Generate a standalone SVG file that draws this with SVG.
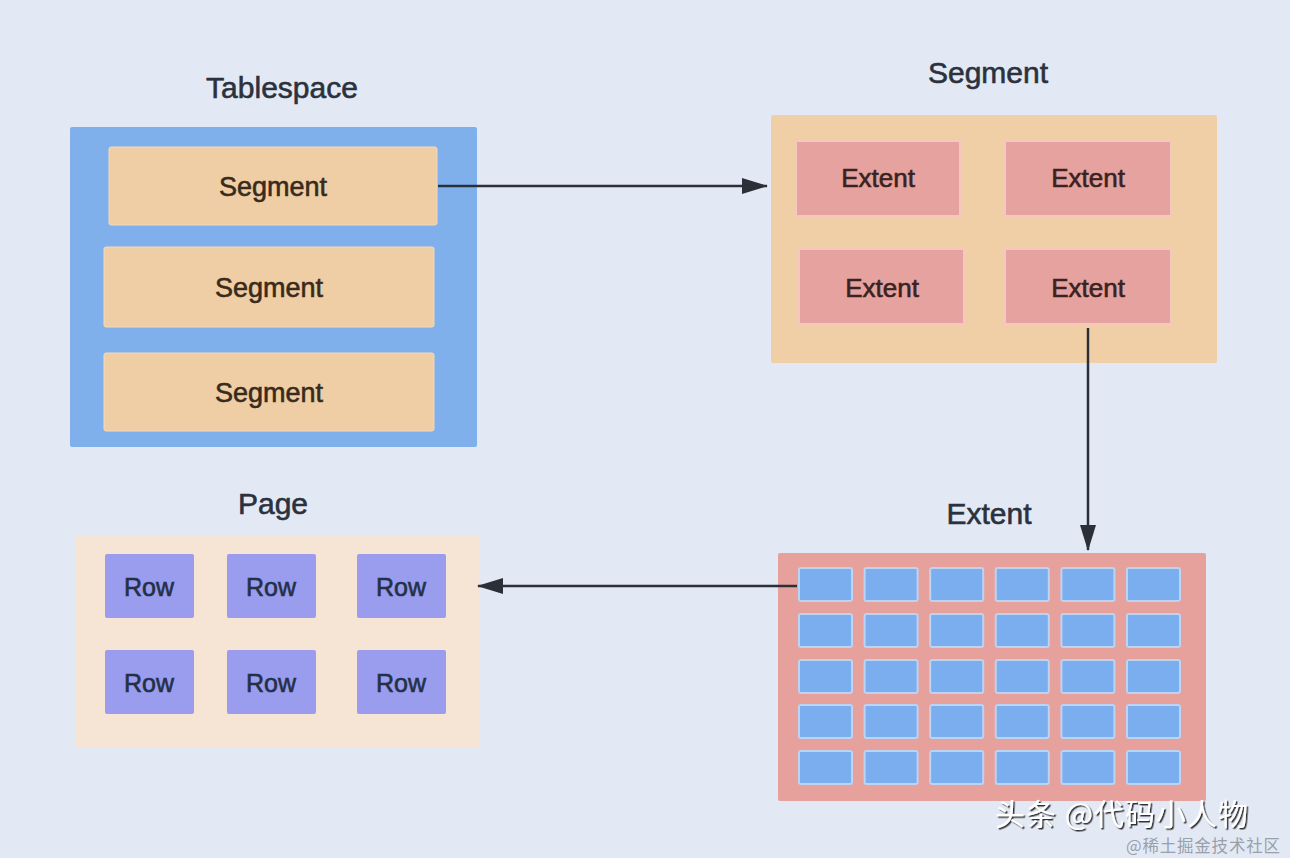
<svg xmlns="http://www.w3.org/2000/svg" width="1290" height="858" viewBox="0 0 1290 858">
<style>
.title{font-family:"Liberation Sans",Arial,sans-serif;font-size:30px;fill:#2b323d;text-anchor:middle;stroke:#2b323d;stroke-width:0.6}
.lbl{font-family:"Liberation Sans",Arial,sans-serif;text-anchor:middle;stroke-width:0.6}
.seg{fill:#f0cea5;stroke:#f4d9b8;stroke-width:1}
.segt{font-size:27px;fill:#3a2a1b;stroke:#3a2a1b}
.ext{fill:#e6a29e;stroke:#f6c6c0;stroke-width:2}
.extt{font-size:26px;fill:#3b2222;stroke:#3b2222}
.cell{fill:#7aaeee;stroke:#bcd3f2;stroke-width:2}
.row{fill:#9a9cee}
.rowt{font-size:25px;fill:#243048;stroke:#243048}
.conn{stroke:#2b3038;stroke-width:2.5;fill:none}
</style>
<defs>
<marker id="ah" viewBox="0 0 26 16" refX="25" refY="8" markerWidth="26" markerHeight="16" markerUnits="userSpaceOnUse" orient="auto">
<path d="M0,0 L26,8 L0,16 Z" fill="#2b3038"/>
</marker>
<filter id="sh" x="-5%" y="-20%" width="110%" height="140%">
<feDropShadow dx="1.5" dy="1.5" stdDeviation="0.6" flood-color="#1a1a1a" flood-opacity="0.9"/>
</filter>
</defs>
<rect x="0" y="0" width="1290" height="858" fill="#e3e9f4"/>

<g id="tablespace">
<text class="title" x="282" y="98">Tablespace</text>
<rect x="70" y="127" width="407" height="320" rx="2" fill="#80b0ec"/>
<g id="ts-segment-1"><rect class="seg" x="109" y="147" width="328" height="78" rx="2"/><text class="lbl segt" x="273" y="196">Segment</text></g>
<g id="ts-segment-2"><rect class="seg" x="104" y="247" width="330" height="80" rx="2"/><text class="lbl segt" x="269" y="297">Segment</text></g>
<g id="ts-segment-3"><rect class="seg" x="104" y="353" width="330" height="78" rx="2"/><text class="lbl segt" x="269" y="402">Segment</text></g>
</g>

<g id="segment">
<text class="title" x="988" y="83">Segment</text>
<rect x="771" y="115" width="446" height="248" rx="2" fill="#f1cfa6"/>
<g id="seg-extent-1"><rect class="ext" x="796" y="141" width="164" height="75"/><text class="lbl extt" x="878" y="187">Extent</text></g>
<g id="seg-extent-2"><rect class="ext" x="1005" y="141" width="166" height="75"/><text class="lbl extt" x="1088" y="187">Extent</text></g>
<g id="seg-extent-3"><rect class="ext" x="799" y="249" width="165" height="75"/><text class="lbl extt" x="882" y="297">Extent</text></g>
<g id="seg-extent-4"><rect class="ext" x="1005" y="249" width="166" height="75"/><text class="lbl extt" x="1088" y="297">Extent</text></g>
</g>

<g id="extent">
<text class="title" x="989" y="524">Extent</text>
<rect x="778" y="553" width="428" height="248" rx="2" fill="#e7a19c"/>
<g id="pages">
<rect class="cell" x="799" y="568" width="53" height="33" rx="2"/><rect class="cell" x="864.6" y="568" width="53" height="33" rx="2"/><rect class="cell" x="930.2" y="568" width="53" height="33" rx="2"/><rect class="cell" x="995.8" y="568" width="53" height="33" rx="2"/><rect class="cell" x="1061.4" y="568" width="53" height="33" rx="2"/><rect class="cell" x="1127" y="568" width="53" height="33" rx="2"/>
<rect class="cell" x="799" y="614" width="53" height="33" rx="2"/><rect class="cell" x="864.6" y="614" width="53" height="33" rx="2"/><rect class="cell" x="930.2" y="614" width="53" height="33" rx="2"/><rect class="cell" x="995.8" y="614" width="53" height="33" rx="2"/><rect class="cell" x="1061.4" y="614" width="53" height="33" rx="2"/><rect class="cell" x="1127" y="614" width="53" height="33" rx="2"/>
<rect class="cell" x="799" y="660" width="53" height="33" rx="2"/><rect class="cell" x="864.6" y="660" width="53" height="33" rx="2"/><rect class="cell" x="930.2" y="660" width="53" height="33" rx="2"/><rect class="cell" x="995.8" y="660" width="53" height="33" rx="2"/><rect class="cell" x="1061.4" y="660" width="53" height="33" rx="2"/><rect class="cell" x="1127" y="660" width="53" height="33" rx="2"/>
<rect class="cell" x="799" y="705" width="53" height="33" rx="2"/><rect class="cell" x="864.6" y="705" width="53" height="33" rx="2"/><rect class="cell" x="930.2" y="705" width="53" height="33" rx="2"/><rect class="cell" x="995.8" y="705" width="53" height="33" rx="2"/><rect class="cell" x="1061.4" y="705" width="53" height="33" rx="2"/><rect class="cell" x="1127" y="705" width="53" height="33" rx="2"/>
<rect class="cell" x="799" y="751" width="53" height="33" rx="2"/><rect class="cell" x="864.6" y="751" width="53" height="33" rx="2"/><rect class="cell" x="930.2" y="751" width="53" height="33" rx="2"/><rect class="cell" x="995.8" y="751" width="53" height="33" rx="2"/><rect class="cell" x="1061.4" y="751" width="53" height="33" rx="2"/><rect class="cell" x="1127" y="751" width="53" height="33" rx="2"/>
</g>
</g>

<g id="page">
<text class="title" x="273" y="514">Page</text>
<rect x="76" y="535" width="403" height="213" rx="2" fill="#f6e5d5"/>
<g id="row-1"><rect class="row" x="105" y="554" width="89" height="64" rx="2"/><text class="lbl rowt" x="149" y="596">Row</text></g>
<g id="row-2"><rect class="row" x="227" y="554" width="89" height="64" rx="2"/><text class="lbl rowt" x="271" y="596">Row</text></g>
<g id="row-3"><rect class="row" x="357" y="554" width="89" height="64" rx="2"/><text class="lbl rowt" x="401" y="596">Row</text></g>
<g id="row-4"><rect class="row" x="105" y="650" width="89" height="64" rx="2"/><text class="lbl rowt" x="149" y="692">Row</text></g>
<g id="row-5"><rect class="row" x="227" y="650" width="89" height="64" rx="2"/><text class="lbl rowt" x="271" y="692">Row</text></g>
<g id="row-6"><rect class="row" x="357" y="650" width="89" height="64" rx="2"/><text class="lbl rowt" x="401" y="692">Row</text></g>
</g>

<g id="connectors">
<line class="conn" x1="438" y1="186" x2="767" y2="186" marker-end="url(#ah)"/>
<line class="conn" x1="1088" y1="328" x2="1088" y2="550" marker-end="url(#ah)"/>
<line class="conn" x1="797" y1="586" x2="478" y2="586" marker-end="url(#ah)"/>
</g>

<g id="watermark">
<text x="995" y="825" font-family="Noto Sans CJK SC, sans-serif" font-size="30" letter-spacing="1" fill="#ffffff" filter="url(#sh)">头条 @代码小人物</text>
<text x="1126" y="852" font-family="Noto Sans CJK SC, sans-serif" font-size="16.5" letter-spacing="0.8" fill="#9aa0aa">@稀土掘金技术社区</text>
</g>
</svg>
